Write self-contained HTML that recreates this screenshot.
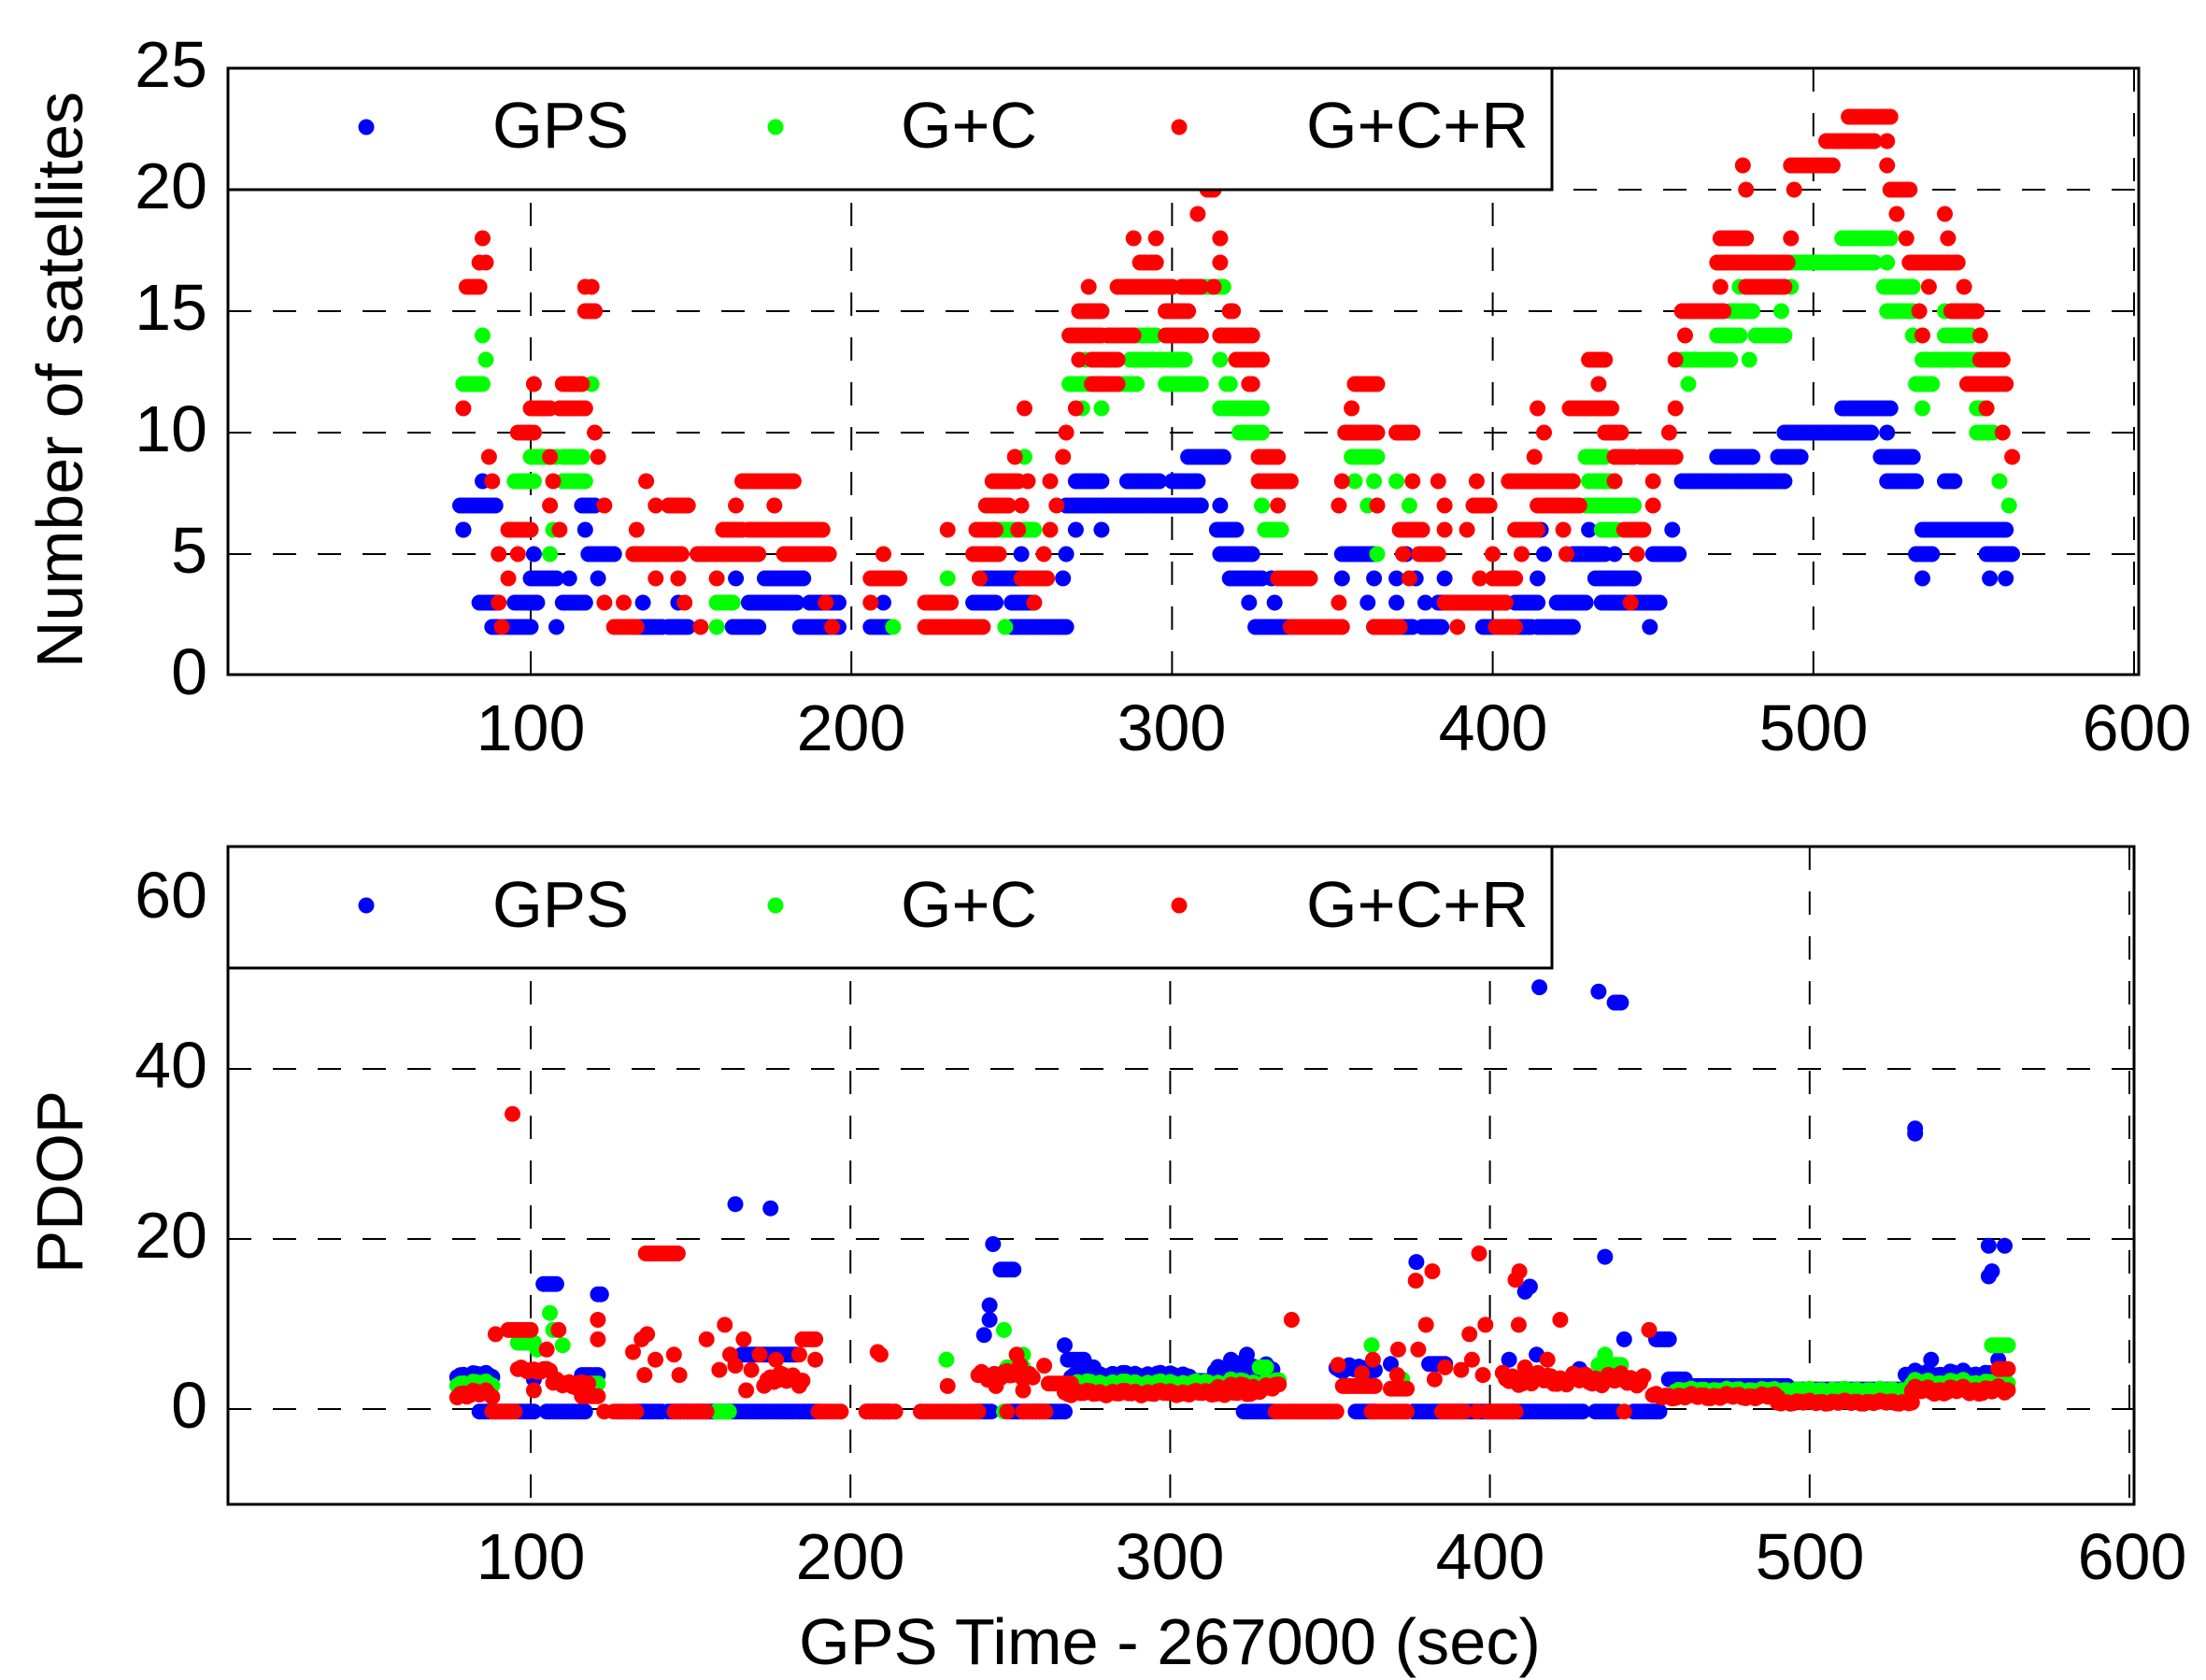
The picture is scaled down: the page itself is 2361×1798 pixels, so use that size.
<!DOCTYPE html>
<html><head><meta charset="utf-8"><style>html,body{margin:0;padding:0;background:#fff}svg{display:block}text{font-family:"Liberation Sans",Arial,sans-serif;fill:#000}</style></head>
<body>
<svg id="s" xmlns="http://www.w3.org/2000/svg" width="2361" height="1798" viewBox="0 0 2361 1798">
<rect width="2361" height="1798" fill="#fff"/>
<g id="grid" stroke="#000" stroke-width="2" stroke-dasharray="25 23" fill="none"></g>
<g id="data"></g>
<g id="frame" fill="none" stroke="#000" stroke-width="3">
<rect x="244" y="73" width="2045" height="649"/>
<rect x="244" y="906" width="2040" height="704"/>
</g>
<g id="leg"></g>
<g font-size="70">
<text x="222" y="93" text-anchor="end">25</text>
<text x="222" y="223" text-anchor="end">20</text>
<text x="222" y="353" text-anchor="end">15</text>
<text x="222" y="483" text-anchor="end">10</text>
<text x="222" y="613" text-anchor="end">5</text>
<text x="222" y="743" text-anchor="end">0</text>
<text x="222" y="982" text-anchor="end">60</text>
<text x="222" y="1164" text-anchor="end">40</text>
<text x="222" y="1346" text-anchor="end">20</text>
<text x="222" y="1528" text-anchor="end">0</text>
<text x="568" y="803" text-anchor="middle">100</text>
<text x="911" y="803" text-anchor="middle">200</text>
<text x="1254" y="803" text-anchor="middle">300</text>
<text x="1598" y="803" text-anchor="middle">400</text>
<text x="1941" y="803" text-anchor="middle">500</text>
<text x="2287" y="803" text-anchor="middle">600</text>
<text x="568" y="1690" text-anchor="middle">100</text>
<text x="910" y="1690" text-anchor="middle">200</text>
<text x="1252" y="1690" text-anchor="middle">300</text>
<text x="1595" y="1690" text-anchor="middle">400</text>
<text x="1937" y="1690" text-anchor="middle">500</text>
<text x="2282" y="1690" text-anchor="middle">600</text>
<text x="855" y="1781" textLength="794" lengthAdjust="spacingAndGlyphs">GPS Time - 267000 (sec)</text>
<text transform="translate(88,715) rotate(-90)" textLength="617" lengthAdjust="spacingAndGlyphs">Number of satellites</text>
<text transform="translate(88,1363) rotate(-90)" textLength="196" lengthAdjust="spacingAndGlyphs">PDOP</text>
</g>
</svg>
<script>
(function(){
var NS="http://www.w3.org/2000/svg";
function el(p,n,a){var e=document.createElementNS(NS,n);for(var k in a)e.setAttribute(k,a[k]);p.appendChild(e);return e;}
var grid=document.getElementById('grid'),data=document.getElementById('data'),leg=document.getElementById('leg');
// grid top
for(var t=100;t<=600;t+=100){var x=568+(t-100)*3.432;el(grid,'line',{x1:x,y1:73,x2:x,y2:722});}
[5,10,15,20].forEach(function(v){var y=723-26*v;el(grid,'line',{x1:244,y1:y,x2:2289,y2:y});});
for(var t=100;t<=600;t+=100){var x=568+(t-100)*3.422;el(grid,'line',{x1:x,y1:906,x2:x,y2:1610});}
[0,20,40].forEach(function(v){var y=1508-9.1*v;el(grid,'line',{x1:244,y1:y,x2:2284,y2:y});});
var C={b:'#0000ff',g:'#00ff00',r:'#ff0000'};
function plot(str,col,X,Y){
 str.trim().split(/\s+/).forEach(function(tok){
  var amp=0,p=tok.split('~');if(p.length>1)amp=parseFloat(p[1]);
  var q=p[0].split(':');var v=parseFloat(q[1]);var r=q[0].split('-');
  var a=parseFloat(r[0]),b=r.length>1?parseFloat(r[1]):a;
  for(var t=a;t<=b+0.001;t+=1){
   var vv=v+(amp?amp*(0.6*Math.sin(t*1.7)+0.4*Math.sin(t*0.53+1)):0);
   el(data,'circle',{cx:X(t).toFixed(1),cy:Y(vv).toFixed(1),r:8.5,fill:col});
  }
 });
}
var XT=function(t){return 568+(t-100)*3.432},YT=function(v){return 723-26*v};
var XB=function(t){return 568+(t-100)*3.422},YB=function(v){return 1508-9.1*v};
var TB="79:6 78-89:7 116-120:7 267-309:7 315:7 85:8 270-278:8 286-296:8 300-308:8 459-491:8 523-532:8 541-544:8 305-316:9 470-481:9 489-496:9 521-531:9 491-518:10 523:10 509-524:11 79:6 117:6 270:6 278:6 314-320:6 456:6 415:6 430:6 534-560:6 101:5 118-126:5 253:5 267:5 315-325:5 353-363:5 373:5 416:5 425-435:5 438:5 450-458:5 532-537:5 554-562:5 100-108:4 112:4 121:4 164:4 173-185:4 241-252:4 266:4 318-328:4 331:4 353:4 363:4 370:4 376:4 385:4 414:4 432-444:4 534:4 555:4 560:4 84-90:3 95-102:3 110-117:3 135:3 146:3 168-183:3 187-196:3 210:3 238-245:3 250-257:3 324:3 332:3 361:3 370:3 379:3 383-404:3 407-414:3 420-429:3 434-452:3 88-100:2 108:2 132-141:2 143-149:2 163-171:2 184-196:2 206-212:2 250-267:2 326-336:2 363-375:2 378-384:2 397-412:2 414-425:2 449:2";
var TG="85:14 288-295:14 315:14 470-477:14 482-491:14 531:14 541-549:14 86:13 273:13 287-304:13 315:13 459-474:13 480:13 534-551:13 79-85:12 119:12 268-278:12 283-289:12 298-309:12 317-318:12 461:12 532-537:12 272:11 278:11 315-328:11 534:11 551-554:11 321-328:10 551-556:10 509-524:18 492-519:17 523:17 309-316:16 477:16 493:16 522-531:16 474-481:15 490:15 523-531:15 541:15 100-108:9 110-116:9 254:9 356-364:9 429-435:9 95-101:8 110-117:8 357:8 363:8 370:8 430-438:8 558:8 328:7 361:7 374:7 429-444:7 561:7 107:6 245-257:6 329-334:6 434-439:6 106:5 364:5 230:4 158-163:3 158:2 213:2 248:2";
var TR="85:18 288:18 295:18 315:18 84:17 86:17 290-295:17 315:17 80-84:16 117:16 119:16 274:16 283-300:16 303-309:16 117-120:15 271-278:15 298-305:15 319:15 268-278:14 280-288:14 298-309:14 315-325:14 271:13 275-283:13 322:13 101:12 110-116:12 275-283:12 324:12 79:11 100-106:11 109-117:11 254:11 270:11 96-101:10 120:10 267:10 87:9 106:9 121:9 251:9 266:9 88:8 107:8 136:8 166-182:8 244-252:8 255:8 262:8 106:7 123:7 139:7 143-149:7 164:7 176:7 242-249:7 253:7 264:7 93-100:6 109:6 133:6 160-166:6 168-191:6 230:6 239-245:6 252:6 262:6 90:5 96:5 132-147:5 152-171:5 179-193:5 210:5 238-246:5 260:5 93:4 139:4 146:4 158:4 206-215:4 240:4 253-261:4 90:3 123:3 129:3 148:3 192:3 206:3 223-231:3 257:3 91:2 126-133:2 153:2 194:2 223-241:2 311-313:20 308:19 511-524:23 504-519:22 523:22 478:21 493-506:21 523:21 479:20 494:20 524-530:20 526:19 541:19 471-479:18 493:18 529:18 542:18 470-492:17 530-545:17 471:16 479-491:16 536:16 547:16 313:16 318:15 459-472:15 533:15 543-551:15 460:14 534:14 552:14 320-328:13 430-435:13 457:13 552-559:13 325:12 357-364:12 433:12 548-560:12 356:11 414:11 424-437:11 457:11 554:11 354-364:10 370-375:10 416:10 435-440:10 455:10 559:10 327-333:9 413:9 438-444:9 446-457:9 562:9 327-337:8 353:8 375:8 383:8 395:8 405-425:8 438:8 450:8 333:7 352:7 364:7 385:7 394-399:7 414-427:7 450:7 371-378:6 385:6 392:6 407-414:6 422:6 441-447:6 372:5 377-383:5 400:5 409:5 423:5 445:5 333-343:4 374:4 396:4 400-407:4 352:3 385-404:3 443:3 337-353:2 363-371:2 389:2 401-407:2";
plot(TB,C.b,XT,YT);plot(TG,C.g,XT,YT);plot(TR,C.r,XT,YT);
var BB="164:24.1 175:23.6 104-108:14.7 121-122:13.5 415.5:49.6 434:49.1 439-441:47.8 533:33 533:32.4 244.6:19.4 247-251:16.4 243.5:12.2 243.5:10.5 241.8:8.7 267:7.5 268-273:5.8 276:4.9 377:17.3 436:17.9 412.5:14.4 411:13.8 442:8.2 452-456:8.2 406:5.8 414.6:6.4 538:5.8 559:5.8 556:19.2 561:19.2 557:16.2 556:15.6 319:5.8 324:6.4 77-88:4.0~0.3 101:3.5 116-121:4 166-183:6.4 269-306:4.0~0.3 306-316:3.3 314-332:4.8~0.8 352-364:4.7~0.5 369:5.3 381-386:5.3 428:4.7 456-461:3.5 461-493:2.7 493-530:2.3 530-557:4.0~0.6 84-101:-0.3 105-117:-0.3 133-141:-0.3 143-190:-0.3 205-212:-0.3 240-244:-0.3 250-267:-0.3 323-332:-0.3 358-364:-0.3 376-429:-0.3 433-440:-0.3 445-453:-0.3";
var BG="106:11.3 107:9.3 96-101:7.8 102:7 110:7.5 248:9.3 230:5.8 254:6.4 363:7.5 436:6.4 557-562:7.5 328-330:4.9 319:3.5 372.6:3.5 429.7:3.5 77-88:3.0~0.3 116-121:3.0 249-254:4.9 270-324:3.0~0.3 314-334:3~0.5 434-441:5.2 458-532:2.2~0.2 532-562:3.0~0.5 158-162:-0.3 248:-0.3";
var BR="94.3:34.7 136-146:18.3 89:8.8 93-100:9.3 108.7:9.3 121:10.5 121:8.2 105:7 134.7:8.2 136.4:8.8 132:6.7 139:5.8 144.8:6.4 135.6:4 146.5:4 155:8.2 160.7:9.9 166.6:8.2 162.4:6.4 164:5.1 171.6:6.4 176.7:5.8 159:4.6 169:4.6 173-185:3.5~0.8 167.4:2.2 185-189:8.2 189:5.8 184:6.4 208.5:6.7 209.4:6.4 230.4:2.7 252:6.4 253:5.2 260.6:5.1 240-257:4.0~0.6 245.5:2.7 254:2.2 262-269:3.0 338:10.5 396.6:18.3 382:16.2 376.8:15.1 380:9.9 393.6:8.8 398.6:9.9 409:9.9 409.2:16.2 408:15.2 422:10.5 449.8:9.3 352.5:5.2 363.4:5.8 371.3:7 377.6:7 394.4:5.8 418:5.8 386:4.9 391:4.6 397.8:4 411:4.9 360:4.2 371:4 382.7:3.5 77-88:1.8~0.5 96-106:4.6~0.3 107-118:3.0~0.5 116-121:1.5 101:2.2 267-326:1.9~0.3 314-334:2.5~0.5 354-364:2.7 369-374:2.4 404-448:3.5~0.8 451-490:1.5~0.3 490-532:0.8~0.2 532-562:2.2~0.5 559-562:4.7 88-95:-0.3 123:-0.3 126-133:-0.3 145-155:-0.3 190-197:-0.3 205-214:-0.3 222-240:-0.3 249:-0.3 254-261:-0.3 333-352:-0.3 363-374:-0.3 385-392:-0.3 396:-0.3 399-408:-0.3 442:-0.3";
plot(BB,C.b,XB,YB);plot(BG,C.g,XB,YB);plot(BR,C.r,XB,YB);
// legends
[[73,136,158],[906,969,992]].forEach(function(L){
 el(leg,'rect',{x:244,y:L[0],width:1417,height:130,fill:'#fff',stroke:'#000','stroke-width':3});
 el(leg,'circle',{cx:392,cy:L[1],r:8.5,fill:C.b});
 el(leg,'circle',{cx:830,cy:L[1],r:8.5,fill:C.g});
 el(leg,'circle',{cx:1262,cy:L[1],r:8.5,fill:C.r});
 [['GPS',527,146],['G+C',964,146],['G+C+R',1398,238]].forEach(function(s){
  var tx=el(leg,'text',{x:s[1],y:L[2],'font-size':70,textLength:s[2],lengthAdjust:'spacingAndGlyphs'});tx.textContent=s[0];
 });
});
})();
</script>
</body></html>
